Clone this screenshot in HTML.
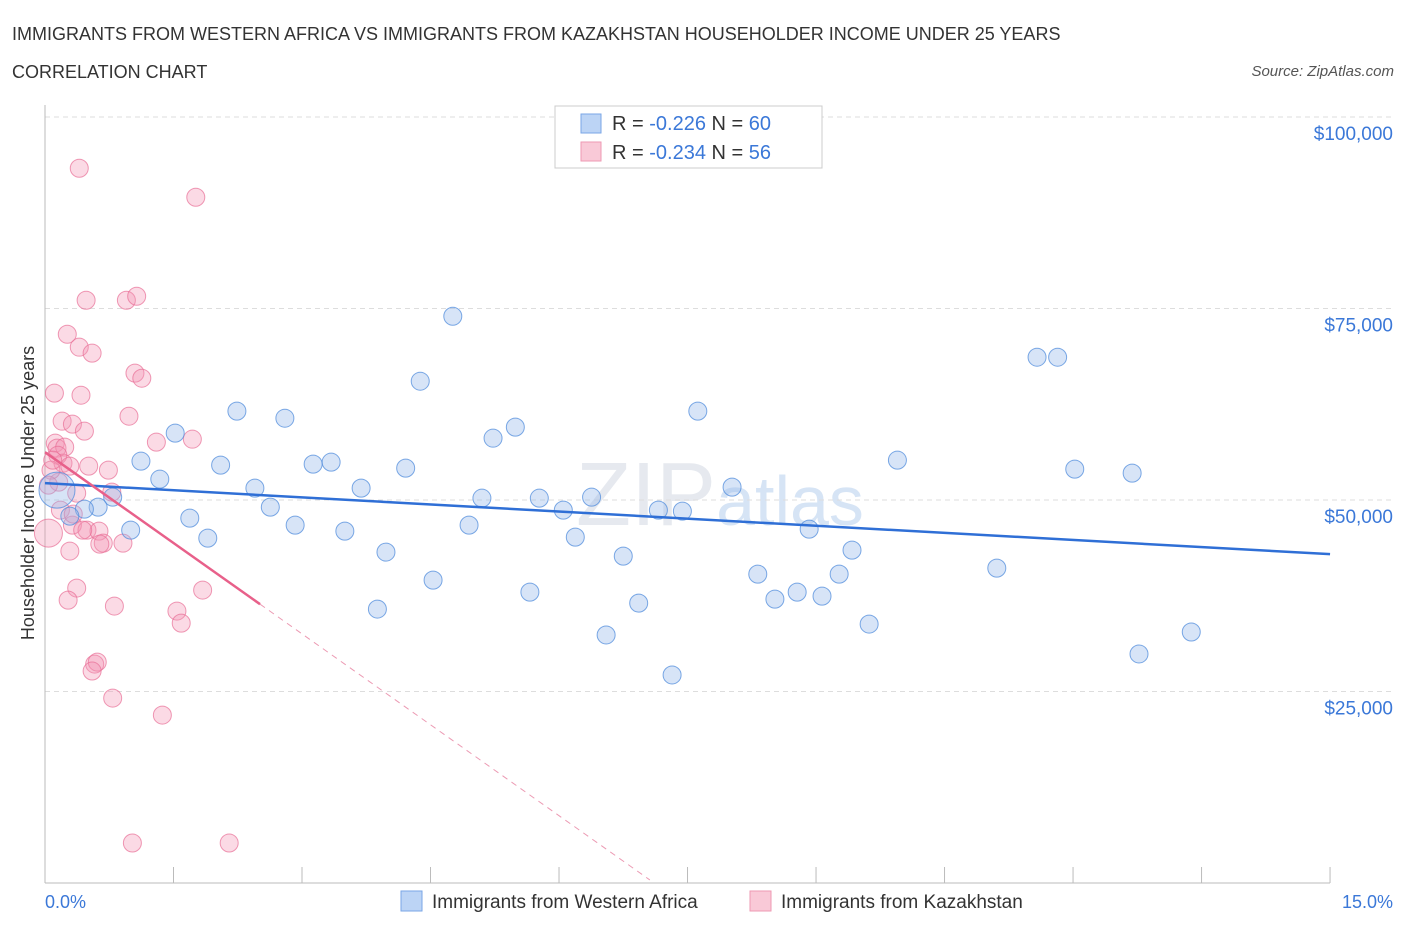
<!DOCTYPE html>
<html><head><meta charset="utf-8"><style>
body{margin:0;background:#fff;font-family:"Liberation Sans",sans-serif;}
svg text{font-family:"Liberation Sans",sans-serif;}
</style></head><body>
<svg id="c" width="1406" height="930" xmlns="http://www.w3.org/2000/svg">
<text x="12" y="40" font-size="18" fill="#333">IMMIGRANTS FROM WESTERN AFRICA VS IMMIGRANTS FROM KAZAKHSTAN HOUSEHOLDER INCOME UNDER 25 YEARS</text>
<text x="12" y="78" font-size="18" fill="#333">CORRELATION CHART</text>
<text x="1394" y="76" font-size="15" fill="#555" font-style="italic" text-anchor="end">Source: ZipAtlas.com</text>
<text x="720" y="525" font-size="90" fill="#e6e9ef" text-anchor="middle" font-family="Liberation Serif">ZIP<tspan fill="#d6e4f5" font-family="Liberation Sans" font-size="70">atlas</tspan></text>
<g id="grid"></g>
<g id="marks"></g>
<text transform="translate(34,493) rotate(-90)" font-size="18" fill="#333" text-anchor="middle">Householder Income Under 25 years</text>
<text x="45" y="908" font-size="18" fill="#3b78d8">0.0%</text>
<text x="1393" y="908" font-size="18" fill="#3b78d8" text-anchor="end">15.0%</text>
<g>
<rect x="555" y="106" width="267" height="62" fill="#fff" stroke="#ccc"/>
<rect x="581" y="114" width="20" height="19" fill="#bcd4f5" stroke="#7aa6e6"/>
<rect x="581" y="142" width="20" height="19" fill="#f9c9d7" stroke="#ee99b3"/>
<text x="612" y="130" font-size="20" fill="#333">R = <tspan fill="#3b78d8">-0.226</tspan>   N = <tspan fill="#3b78d8">60</tspan></text>
<text x="612" y="159" font-size="20" fill="#333">R = <tspan fill="#3b78d8">-0.234</tspan>   N = <tspan fill="#3b78d8">56</tspan></text>
</g>
<g>
<rect x="401" y="891" width="21" height="20" fill="#bcd4f5" stroke="#7aa6e6"/>
<text x="432" y="908" font-size="19" fill="#333">Immigrants from Western Africa</text>
<rect x="750" y="891" width="21" height="20" fill="#f9c9d7" stroke="#ee99b3"/>
<text x="781" y="908" font-size="19" fill="#333">Immigrants from Kazakhstan</text>
</g>
</svg>
<script>
const yTicks=[25000,50000,75000,100000];
const yTickLabels=["$25,000","$50,000","$75,000","$100,000"];
const blueX=[4.76,11.58,11.82,4.38,2.24,7.62,2.80,5.49,5.23,1.52,1.12,9.95,3.13,3.34,4.21,2.05,12.02,12.69,1.34,2.45,3.69,8.02,0.79,5.10,5.77,6.38,0.62,0.46,2.63,6.05,7.16,7.44,1.69,2.92,4.95,8.92,1.00,3.50,1.90,6.19,9.42,3.98,6.75,11.11,4.53,8.32,9.27,5.66,8.78,9.07,8.52,3.88,6.93,9.62,6.55,13.38,12.77,7.32,0.14,0.29];
const blueY=[73990,68640,68640,65510,61600,61600,60680,59510,58070,58730,55070,55200,54680,54940,54160,54550,54030,53510,52720,51550,51550,51680,50370,50240,50240,50370,49070,48810,49070,48680,48680,48550,47630,46720,46720,46200,46070,45940,45020,45150,43460,43200,42670,41110,39540,40320,40320,37970,37970,37450,37060,35760,36540,33800,32380,32770,29900,27160,51290,47890];
const pinkX=[0.40,1.76,0.48,0.95,1.07,0.26,0.40,0.55,0.11,0.42,1.05,1.13,0.98,0.20,0.32,0.46,0.12,0.14,0.23,1.30,1.72,0.51,0.74,0.21,0.37,0.78,0.16,0.04,0.32,0.49,0.63,0.68,0.64,0.91,0.29,0.37,0.27,0.81,1.54,1.59,1.84,0.58,0.61,0.55,0.79,1.37,1.02,2.15,0.15,0.07,0.18,0.33,0.44,0.09,0.04,0.29];
const pinkY=[93310,89520,76080,76080,76600,71640,69950,69170,63950,63680,66560,65900,60940,60290,59900,58990,57420,56770,56900,57550,57940,54420,53900,54810,50900,51030,52330,45680,46720,46070,45940,44370,44240,44370,43330,38500,36930,36150,35500,33930,38240,28580,28840,27670,24140,21920,5220,5220,55850,53900,48680,48160,46070,55200,51940,54420];
const blueTrend=[[0,52200],[15,42930]];
const pinkTrend=[[0,56240],[2.51,36400]];
const pinkDash=[[2.51,36400],[7.06,400]];
const X=v=>45+v*85.67, Y=v=>883-v*0.00766;
const NS="http://www.w3.org/2000/svg";
const grid=document.getElementById('grid'), marks=document.getElementById('marks');
function mk(tag,attrs,parent){const e=document.createElementNS(NS,tag);for(const k in attrs)e.setAttribute(k,attrs[k]);parent.appendChild(e);return e;}
yTicks.forEach((t,i)=>{
 const l=mk('line',{x1:45,x2:1393,y1:Y(t),y2:Y(t),stroke:'#ddd','stroke-dasharray':'5,4'},grid);
 
 
 const tx=mk('text',{x:1393,y:Y(t)+23,'font-size':19,fill:'#3b78d8','text-anchor':'end'},grid);
 tx.textContent=yTickLabels[i];
 
 
});
const ax=mk('line',{x1:45,x2:45,y1:105,y2:883,stroke:'#bbb'},grid);


const bx=mk('line',{x1:45,x2:1330,y1:883,y2:883,stroke:'#bbb'},grid);


for(let i=0;i<=10;i++){
 const t=mk('line',{x1:X(i*1.5),x2:X(i*1.5),y1:867,y2:883,stroke:'#bbb'},grid);
 
 
}
pinkX.forEach((x,i)=>{
 const r=i==27?14:9;
 const c=mk('circle',{cx:X(x),cy:Y(pinkY[i]),r:r,fill:'rgba(244,150,180,0.35)',stroke:'rgba(232,110,150,0.7)','stroke-width':1},marks);
 
 
});
blueX.forEach((x,i)=>{
 const r=i==58?18:9;
 const c=mk('circle',{cx:X(x),cy:Y(blueY[i]),r:r,fill:'rgba(150,185,235,0.38)',stroke:'rgba(80,140,220,0.75)','stroke-width':1},marks);
 
 
});
const b=mk('line',{x1:X(blueTrend[0][0]),y1:Y(blueTrend[0][1]),x2:X(blueTrend[1][0]),y2:Y(blueTrend[1][1]),stroke:'#2f6fd6','stroke-width':2.5},marks);


const p=mk('line',{x1:X(pinkTrend[0][0]),y1:Y(pinkTrend[0][1]),x2:X(pinkTrend[1][0]),y2:Y(pinkTrend[1][1]),stroke:'#e8608a','stroke-width':2.5},marks);


const pd=mk('line',{x1:X(pinkDash[0][0]),y1:Y(pinkDash[0][1]),x2:X(pinkDash[1][0]),y2:Y(pinkDash[1][1]),stroke:'#ec9ab3','stroke-width':1,'stroke-dasharray':'6,5'},marks);


</script>
</body></html>
